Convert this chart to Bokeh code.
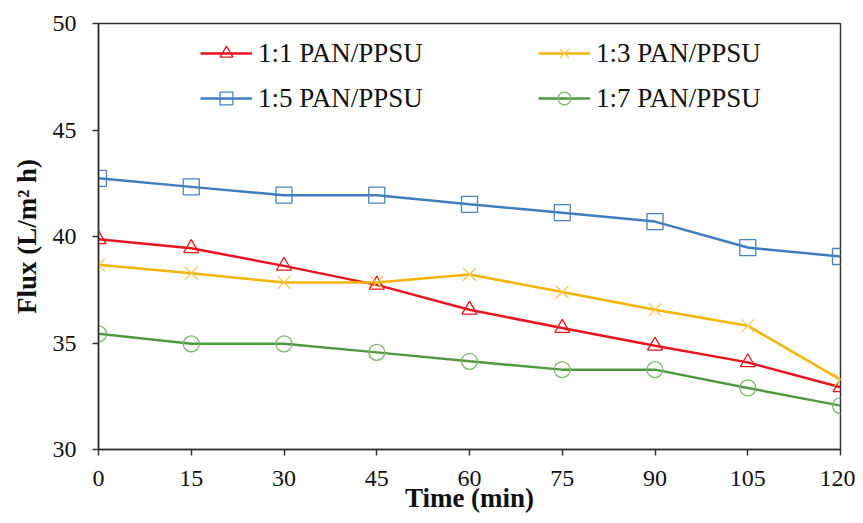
from bokeh.plotting import figure
from bokeh.models import Legend, LegendItem, FixedTicker, Range1d
from bokeh.embed import file_html
from bokeh.resources import INLINE

time_min = [0, 15, 30, 45, 60, 75, 90, 105, 120]
flux_1_1 = [39.87, 39.45, 38.62, 37.73, 36.56, 35.70, 34.87, 34.09, 32.92]
flux_1_3 = [38.67, 38.28, 37.84, 37.84, 38.22, 37.39, 36.56, 35.81, 33.28]
flux_1_5 = [42.73, 42.33, 41.94, 41.94, 41.51, 41.12, 40.70, 39.48, 39.06]
flux_1_7 = [35.43, 34.96, 34.96, 34.56, 34.14, 33.75, 33.75, 32.89, 32.06]
x_ticks = [0, 15, 30, 45, 60, 75, 90, 105, 120]
y_ticks = [30, 35, 40, 45, 50]

FONT = "Liberation Serif"

p = figure(width=855, height=515, output_backend="svg", toolbar_location=None,
           x_range=Range1d(0, 120), y_range=Range1d(30, 50),
           min_border_left=98, min_border_right=15, min_border_top=23, min_border_bottom=66)
p.grid.visible = False
p.outline_line_color = "#333333"
p.outline_line_width = 1.5

for ax in (p.xaxis[0], p.yaxis[0]):
    ax.axis_line_color = "#333333"
    ax.axis_line_width = 1.5
    ax.major_tick_line_color = "#333333"
    ax.major_tick_line_width = 1.5
    ax.major_tick_in = 0
    ax.major_tick_out = 6
    ax.minor_tick_line_color = None
    ax.major_label_text_font = FONT
    ax.major_label_text_font_size = "24px"
    ax.major_label_text_color = "#111111"
    ax.axis_label_text_font = FONT
    ax.axis_label_text_font_size = "27px"
    ax.axis_label_text_font_style = "bold"
    ax.axis_label_text_color = "#111111"

p.xaxis.ticker = FixedTicker(ticks=x_ticks)
p.yaxis.ticker = FixedTicker(ticks=y_ticks)
p.xaxis.axis_label = "Time (min)"
p.yaxis.axis_label = "Flux (L/m² h)"
p.xaxis.major_label_standoff = 15
p.yaxis.major_label_standoff = 16
p.xaxis.axis_label_standoff = -6
p.yaxis.axis_label_standoff = 8

series = {
    "1:1 PAN/PPSU": (flux_1_1, "#E8141E", "#E8141E", "triangle", 15),
    "1:3 PAN/PPSU": (flux_1_3, "#F5B400", "#F7C65A", "x", 18),
    "1:5 PAN/PPSU": (flux_1_5, "#3E7DC0", "#4A84C4", "square", 16),
    "1:7 PAN/PPSU": (flux_1_7, "#4E9A3E", "#7DB86E", "circle", 16),
}
items = {}
for label, (ys, lc, mc, mk, sz) in series.items():
    r1 = p.line(time_min, ys, line_color=lc, line_width=2.5)
    r2 = p.scatter(time_min, ys, marker=mk, size=sz, line_color=mc, line_width=1.3,
                   fill_color=None)
    items[label] = LegendItem(label=label, renderers=[r1, r2])

# column-major fill: column 1 = 1:1, 1:5 ; column 2 = 1:3, 1:7
order = ["1:1 PAN/PPSU", "1:5 PAN/PPSU", "1:3 PAN/PPSU", "1:7 PAN/PPSU"]
legend = Legend(items=[items[k] for k in order], ncols=2, location=(102, 335),
                border_line_color=None, background_fill_alpha=0,
                padding=0, margin=0, spacing=13,
                glyph_width=52, glyph_height=32, label_height=32,
                label_width=267, label_standoff=6,
                label_text_font=FONT, label_text_font_size="27px",
                label_text_color="#111111")
p.add_layout(legend, "center")

open("out.html", "w").write(file_html(p, INLINE))
